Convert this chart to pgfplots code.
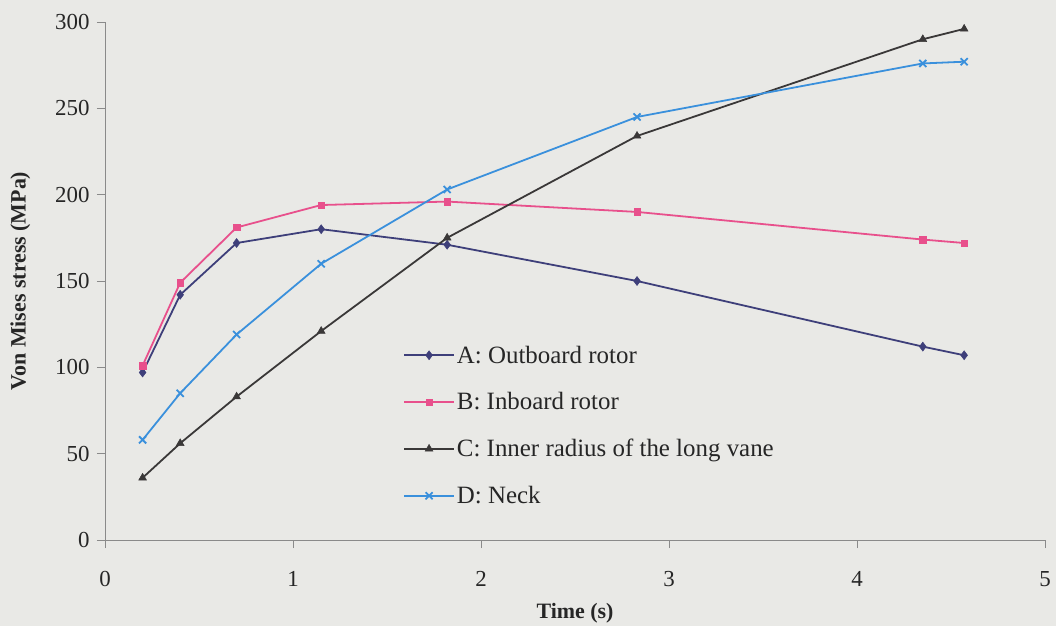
\documentclass[border=0pt]{standalone}
\usepackage{pgfplots}
\pgfplotsset{compat=1.18}
\usepackage{fontspec}
\setmainfont{Liberation Serif}
\definecolor{bg}{HTML}{E9E9E6}
\definecolor{cA}{HTML}{3E3F7A}
\definecolor{cB}{HTML}{E8508C}
\definecolor{cC}{HTML}{3A3838}
\definecolor{cD}{HTML}{3A90DC}
\definecolor{axc}{HTML}{8A8A8A}
\begin{document}
\begin{tikzpicture}
\fill[bg] (-105bp,-86bp) rectangle (951bp,540bp);
\begin{axis}[
  scale only axis, width=940bp, height=518bp,
  xmin=0, xmax=5, ymin=0, ymax=300,
  xtick={0,1,2,3,4,5}, ytick={0,50,100,150,200,250,300},
  axis x line=bottom, axis y line=left,
  axis line style={-, axc, line width=0.8pt},
  tick style={axc, line width=0.8pt},
  tick align=outside, major tick length=8bp,
  /pgf/number format/assume math mode=true,
  ticklabel style={font=\fontsize{23}{26}\selectfont, text=black!85},
  xticklabel style={yshift=-20bp},
  yticklabel style={xshift=-4bp},
  xlabel={\textbf{Time (s)}}, ylabel={\textbf{Von Mises stress (MPa)}},
  label style={font=\fontsize{22}{25}\selectfont, text=black!85},
  xlabel style={yshift=-9bp},
  ylabel style={yshift=18bp},
  legend cell align=left,
  legend style={at={(rel axis cs:0.317,0.379)}, anchor=north west, draw=none, fill=none,
    font=\fontsize{25}{28}\selectfont, text=black!85, row sep=24bp, inner sep=0pt},
  legend image code/.code={%
    \draw[mark repeat=2,mark phase=2] plot coordinates {(0bp,0bp)(25bp,0bp)(50bp,0bp)};},
]
\addplot[cA, line width=1.8pt, mark=diamond*, mark size=4.5bp, mark options={line width=0.5pt}] coordinates {
 (0.2,97) (0.4,142) (0.7,172) (1.15,180) (1.82,171) (2.83,150) (4.35,112) (4.57,107)};
\addlegendentry{A: Outboard rotor}
\addplot[cB, line width=1.8pt, mark=square*, mark size=3.2bp, mark options={line width=0.5pt}] coordinates {
 (0.2,101) (0.4,149) (0.7,181) (1.15,194) (1.82,196) (2.83,190) (4.35,174) (4.57,172)};
\addlegendentry{B: Inboard rotor}
\addplot[cC, line width=1.8pt, mark=triangle*, mark size=4.5bp, mark options={line width=0.5pt}] coordinates {
 (0.2,36) (0.4,56) (0.7,83) (1.15,121) (1.82,175) (2.83,234) (4.35,290) (4.57,296)};
\addlegendentry{C: Inner radius of the long vane}
\addplot[cD, line width=1.8pt, mark=x, mark size=5bp, mark options={line width=1.8pt}] coordinates {
 (0.2,58) (0.4,85) (0.7,119) (1.15,160) (1.82,203) (2.83,245) (4.35,276) (4.57,277)};
\addlegendentry{D: Neck}
\end{axis}
\end{tikzpicture}
\end{document}
